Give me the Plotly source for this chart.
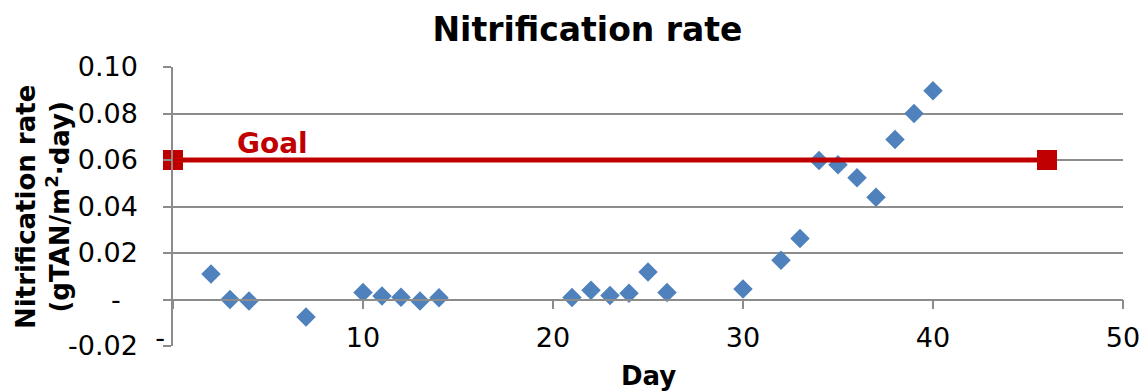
import plotly.graph_objects as go

# ---- data ----
days = [2, 3, 4, 7, 10, 11, 12, 13, 14, 21, 22, 23, 24, 25, 26, 30, 32, 33, 34, 35, 36, 37, 38, 39, 40]
rate = [0.011, 0.000, -0.0006, -0.0075, 0.003, 0.0015, 0.001, -0.0006, 0.0007,
        0.0009, 0.004, 0.0017, 0.0027, 0.0118, 0.003, 0.0045, 0.0169, 0.0262,
        0.0598, 0.058, 0.0524, 0.044, 0.0688, 0.080, 0.0898]
goal_days = [0, 46]
goal_rate = [0.06, 0.06]

y_tickvals = [-0.02, 0, 0.02, 0.04, 0.06, 0.08, 0.10]
y_ticktext = ["-0.02", "-\u00a0\u00a0", "0.02", "0.04", "0.06", "0.08", "0.10"]
x_tickvals = [0, 10, 20, 30, 40, 50]
x_ticktext = ["-\u00a0\u00a0\u00a0", "10", "20", "30", "40", "50"]

FONT = "DejaVu Sans, Verdana, sans-serif"
GRID = "#8C8C8C"
BLUE = "#4F81BD"
RED = "#C00000"

fig = go.Figure()
fig.add_trace(go.Scatter(
    x=days, y=rate, mode="markers", name="Nitrification rate",
    marker=dict(symbol="diamond", size=15, color=BLUE, line=dict(width=0)),
    showlegend=False,
))
fig.add_trace(go.Scatter(
    x=goal_days, y=goal_rate, mode="lines+markers", name="Goal",
    line=dict(color=RED, width=5),
    marker=dict(symbol="square", size=20, color=RED),
    cliponaxis=False, showlegend=False,
))

fig.add_annotation(
    x=5.25, y=0.0672, xref="x", yref="y", text="<b>Goal</b>", showarrow=False,
    font=dict(family=FONT, size=28, color=RED), xanchor="center", yanchor="middle",
)
fig.add_annotation(
    x=-0.1374, y=0.5, xref="paper", yref="paper",
    text="<b>Nitrification rate<br>(gTAN/m<sup>2</sup>·day)</b>",
    textangle=-90, showarrow=False, xanchor="center", yanchor="middle",
    font=dict(family=FONT, size=26, color="black"),
)
fig.add_annotation(
    x=0.5, y=-0.1074, xref="paper", yref="paper", text="<b>Day</b>",
    showarrow=False, xanchor="center", yanchor="middle",
    font=dict(family=FONT, size=26, color="black"),
)

fig.update_layout(
    width=1144, height=391,
    margin=dict(l=173, r=21, t=67, b=45, autoexpand=False),
    paper_bgcolor="white", plot_bgcolor="white",
    font=dict(family=FONT, color="black"),
    title=dict(text="<b>Nitrification rate</b>", xref="container", yref="container",
               x=587.5 / 1144, y=1 - 29 / 391, xanchor="center", yanchor="middle",
               font=dict(family=FONT, size=33, color="black")),
    xaxis=dict(
        range=[0, 50], anchor="free", position=1 / 6, automargin=False,
        showgrid=False, zeroline=False,
        showline=True, linecolor=GRID, linewidth=1.5,
        ticks="outside", ticklen=9, tickcolor=GRID, tickwidth=1.5,
        tickvals=x_tickvals, ticktext=x_ticktext,
        tickfont=dict(family=FONT, size=27, color="black"),
        ticklabelstandoff=5,
    ),
    yaxis=dict(
        range=[-0.02, 0.10], domain=[0, 1], automargin=False,
        showgrid=True, gridcolor=GRID, gridwidth=1.5, zeroline=False,
        showline=True, linecolor=GRID, linewidth=1.5,
        ticks="outside", ticklen=8, tickcolor=GRID, tickwidth=1.5,
        tickvals=y_tickvals, ticktext=y_ticktext,
        tickfont=dict(family=FONT, size=27, color="black"),
        ticklabelstandoff=20,
    ),
)

fig.write_html("out.html")
